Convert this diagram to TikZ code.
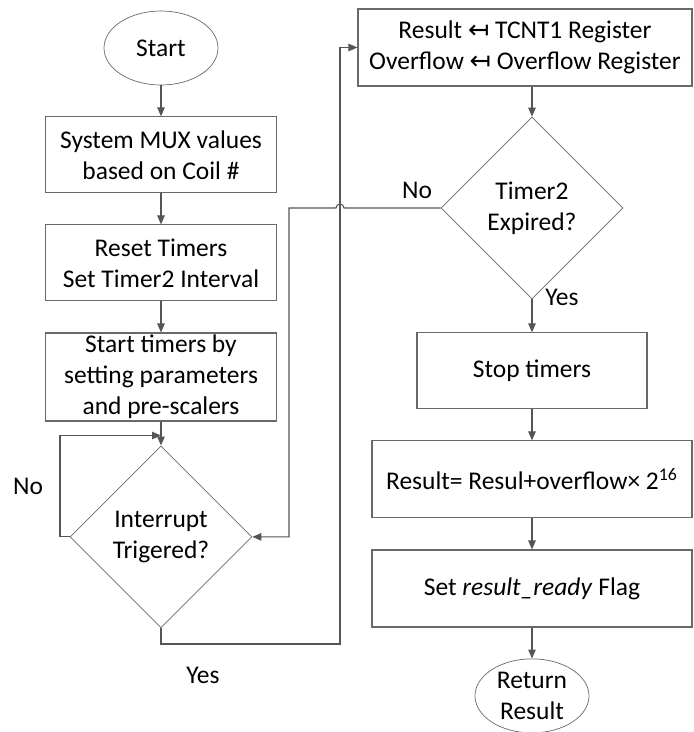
\documentclass[tikz,border=0pt]{standalone}
\usepackage{fontspec}
\setmainfont{Carlito}
\newfontfamily\arrowfont{DejaVu Sans}
\usetikzlibrary{calc,positioning,arrows.meta,shapes.geometric}
\definecolor{ChartLine}{RGB}{85,85,85}
\definecolor{ChartEdge}{RGB}{105,105,105}

\tikzset{
  stepbox/.style={draw=ChartEdge,line width=0.6pt,minimum width=46.2mm,minimum height=15.2mm,align=center,inner sep=1pt},
  decision/.style={diamond,draw=ChartEdge,line width=0.4pt,minimum width=36.4mm,minimum height=36.4mm,aspect=1,align=center,inner sep=0pt},
  terminal/.style={ellipse,draw=ChartEdge,line width=0.4pt,minimum width=22.8mm,minimum height=14.8mm,align=center,inner sep=0pt},
  flow/.style={-{Triangle[length=1.8mm,width=1.5mm]},ChartLine,line width=0.6pt},
  tag/.style={inner sep=0pt}
}

\begin{document}
\begin{tikzpicture}[x=0.2mm,y=-0.2mm,node distance=6.2mm,font=\fontsize{14.5}{17.6}\selectfont]
  \useasboundingbox (0,0) rectangle (694,732);

  % left column
  \node[terminal] (start) at (161,48) {Start};
  \node[stepbox,below=of start] (mux) {System MUX values\\based on Coil \#};
  \node[stepbox,below=of mux] (reset) {Reset Timers\\Set Timer2 Interval};
  \node[stepbox,minimum height=17.6mm,below=of reset] (run) {Start timers by\\setting parameters\\and pre-scalers};
  \node[decision,below=4.8mm of run] (irq) {Interrupt\\Trigered?};

  % right column
  \node[stepbox,minimum width=66.8mm,minimum height=15.4mm] (copy) at (525,47.5) {Result {\arrowfont ↤} TCNT1 Register\\Overflow {\arrowfont ↤} Overflow Register};
  \node[decision] (t2) at (532,208) {Timer2\\Expired?};
  \node[stepbox,minimum width=46mm,below=6.6mm of t2] (stop) {Stop timers};
  \node[stepbox,minimum width=64mm,minimum height=15.4mm,below=of stop] (total) {Result= Resul+overflow× 2\textsuperscript{16}};
  \node[stepbox,minimum width=64mm,minimum height=15.4mm,below=of total] (flag) {Set \textit{result\_ready} Flag};
  \node[terminal,below=of flag] (ret) {Return\\Result};

  % branch labels
  \node[tag] (irqno) at (28,486) {No};
  \node[tag] (irqyes) at (203,675) {Yes};
  \node[tag] (t2no) at (417,190) {No};
  \node[tag,anchor=west] (t2yes) at (545,297) {Yes};

  % bends of the long connectors
  \coordinate (loopx) at (60,0);
  \coordinate (nolane) at (289,0);
  \coordinate (yeslane) at (340,644);

  \draw[flow] (start) -- (mux);
  \draw[flow] (mux) -- (reset);
  \draw[flow] (reset) -- (run);
  \draw[flow] (run) -- (irq);
  % waiting loop
  \draw[flow] (irq.west) -- (loopx |- irq.west) |- ($(irq.north)+(0,-10)$);
  \draw[flow] (irq.south) |- (yeslane) |- (copy.west);
  \draw[flow] (copy.south -| t2.north) -- (t2.north);
  % hop over the yes line
  \draw[flow] (t2.west) -- ($(yeslane |- t2.west)+(4,0)$) arc[start angle=0,end angle=180,radius=0.8mm] -- (nolane |- t2.west) |- (irq.east);
  \draw[flow] (t2) -- (stop);
  \draw[flow] (stop) -- (total);
  \draw[flow] (total) -- (flag);
  \draw[flow] (flag) -- (ret);
\end{tikzpicture}
\end{document}
